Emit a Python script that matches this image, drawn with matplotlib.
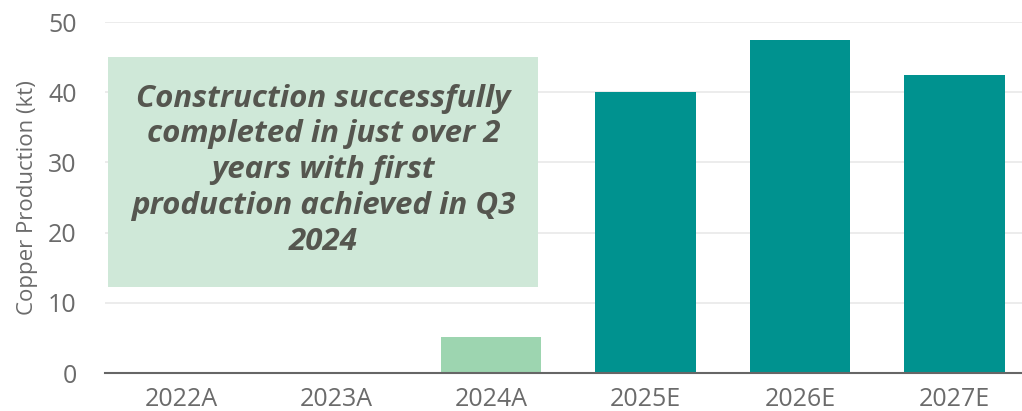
import matplotlib
matplotlib.use("Agg")
import matplotlib.pyplot as plt
from matplotlib.patches import Rectangle

# data
years = ["2022A", "2023A", "2024A", "2025E", "2026E", "2027E"]
production = [0, 0, 5.1, 40, 47.5, 42.5]
bar_colors = ["#9dd5b0", "#9dd5b0", "#9dd5b0", "#00928f", "#00928f", "#00928f"]
yticks = [0, 10, 20, 30, 40, 50]
note = "Construction successfully\ncompleted in just over 2\nyears with first\nproduction achieved in Q3\n2024"

plt.rcParams['font.family'] = ['Open Sans', 'DejaVu Sans']

fig = plt.figure(figsize=(10.22, 4.11), dpi=100)
# axes run slightly past the right edge like the original
ax = fig.add_axes([104.5 / 1022, 38 / 411, 927.5 / 1022, 351 / 411])

x = list(range(len(years)))
ax.bar(x, production, width=0.65, color=bar_colors, zorder=3)

ax.set_xlim(-0.5, 5.5)
ax.set_ylim(0, 50)
ax.set_yticks(yticks)
ax.set_xticks(x)
ax.set_xticklabels(years)
ax.tick_params(axis='both', length=0, labelsize=18, colors="#6b6b6b")
ax.tick_params(axis='x', pad=10)
ax.tick_params(axis='y', pad=20)
ax.set_ylabel("Copper Production (kt)", fontsize=16, color="#6b6b6b", labelpad=7)

ax.grid(axis='y', color="#ebebeb", linewidth=1.3, zorder=0)
for s in ["top", "right", "left"]:
    ax.spines[s].set_visible(False)
ax.spines["bottom"].set_color("#666666")
ax.spines["bottom"].set_linewidth(1.5)
ax.spines["bottom"].set_zorder(4)

# annotation box
ax.add_patch(Rectangle((-0.477, 12.3), 2.78, 32.7, facecolor="#cfe8d8",
                       edgecolor="none", zorder=2))
ax.text(0.916, 28.9, note, ha="center", va="center", fontsize=22.5,
        fontweight="bold", fontstyle="italic", color="#55564f",
        linespacing=1.25, zorder=5)

fig.savefig("out.png", dpi=100)
